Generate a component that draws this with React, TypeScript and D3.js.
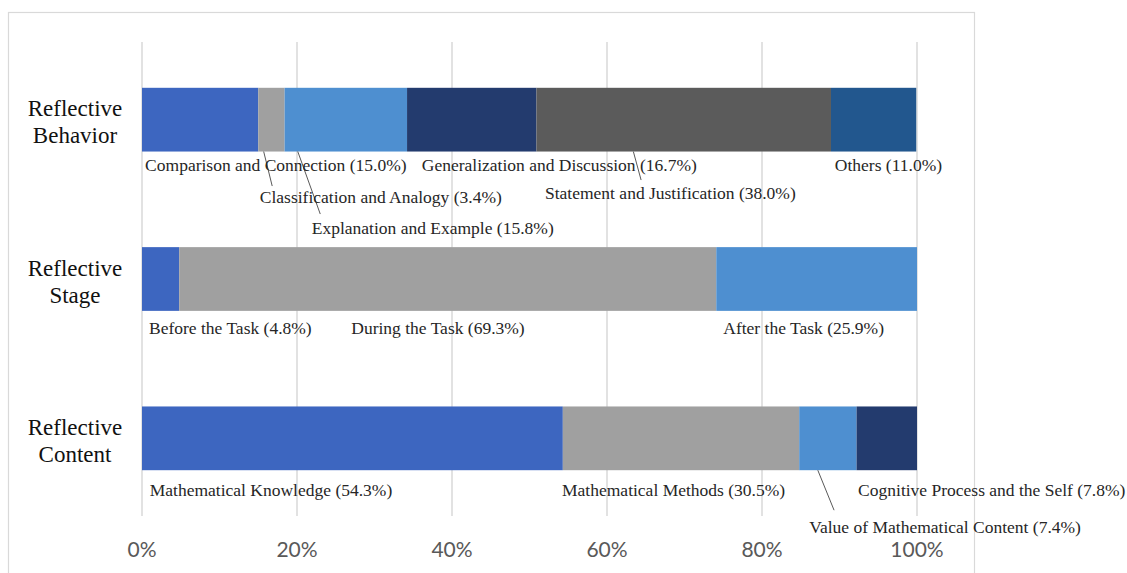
import React from "react";
import * as d3 from "d3";

// Categories (rows of the stacked bar chart)
const categories = ["Reflective Behavior", "Reflective Stage", "Reflective Content"];

// Reflective Behavior components (%)
const behaviorNames = [
  "Comparison and Connection",
  "Classification and Analogy",
  "Explanation and Example",
  "Generalization and Discussion",
  "Statement and Justification",
  "Others",
];
const behaviorValues = [15.0, 3.4, 15.8, 16.7, 38.0, 11.0];

// Reflective Stage components (%)
const stageNames = ["Before the Task", "During the Task", "After the Task"];
const stageValues = [4.8, 69.3, 25.9];

// Reflective Content components (%)
const contentNames = [
  "Mathematical Knowledge",
  "Mathematical Methods",
  "Value of Mathematical Content",
  "Cognitive Process and the Self",
];
const contentValues = [54.3, 30.5, 7.4, 7.8];

// Axis ticks (%)
const tickValues = [0, 20, 40, 60, 80, 100];

// Segment colours, in stacking order
const palette = ["#3d66c0", "#a0a0a0", "#4e8fd0", "#233b6e", "#5b5b5b", "#22578e"];

// Label placement: x in axis units, dy below the bar's bottom edge
const behaviorLabelPos = [
  { x: 0.4, dy: 19.5 },
  { x: 15.2, dy: 51.5 },
  { x: 21.9, dy: 82.5 },
  { x: 36.1, dy: 19.5 },
  { x: 52.0, dy: 47.5 },
  { x: 89.4, dy: 19.5 },
];
const stageLabelPos = [
  { x: 0.9, dy: 23 },
  { x: 27.0, dy: 23 },
  { x: 75.0, dy: 23 },
];
const contentLabelPos = [
  { x: 1.0, dy: 26 },
  { x: 54.2, dy: 26 },
  { x: 86.1, dy: 63 },
  { x: 92.4, dy: 26 },
];

// Leader lines: from (x1, bar bottom) to (x2, bar bottom + dy)
const behaviorLeaders = [
  { x1: 15.7, x2: 16.8, dy: 34.5 },
  { x1: 20.1, x2: 23.0, dy: 62.5 },
  { x1: 63.4, x2: 64.4, dy: 28.5 },
];
const stageLeaders: { x1: number; x2: number; dy: number }[] = [];
const contentLeaders = [{ x1: 87.2, x2: 89.3, dy: 40 }];

const W = 1127;
const H = 573;

const SERIF = "Times New Roman, Liberation Serif, Tinos, DejaVu Serif, serif";

export default function App() {
  const x = d3.scaleLinear().domain([0, 100]).range([142, 917]);
  const y = d3
    .scaleBand<string>()
    .domain(categories)
    .range([40, 518])
    .paddingInner(0.6)
    .paddingOuter(0.3);

  const rows = [
    { names: behaviorNames, values: behaviorValues, pos: behaviorLabelPos, leaders: behaviorLeaders },
    { names: stageNames, values: stageValues, pos: stageLabelPos, leaders: stageLeaders },
    { names: contentNames, values: contentValues, pos: contentLabelPos, leaders: contentLeaders },
  ];

  const gridTop = 42;
  const gridBottom = 516;

  return (
    <svg
      width={W}
      height={H}
      style={{ position: "absolute", left: 0, top: 0, background: "#fff" }}
    >
      <rect x={8.5} y={12.5} width={966} height={600} fill="#fff" stroke="#d9d9d9" strokeWidth={1.2} />

      {/* vertical gridlines */}
      {tickValues.map((t) => (
        <line
          key={"g" + t}
          x1={x(t)}
          x2={x(t)}
          y1={gridTop}
          y2={gridBottom}
          stroke="#d9d9d9"
          strokeWidth={1.5}
        />
      ))}

      {rows.map((row, ri) => {
        const cat = categories[ri];
        const top = y(cat)!;
        const bw = y.bandwidth();
        const bottom = top + bw;
        const mid = top + bw / 2;
        const stack = d3.cumsum(row.values);
        const words = cat.split(" ");
        return (
          <g key={cat}>
            {row.values.map((v, i) => {
              const x0 = x(i === 0 ? 0 : stack[i - 1]);
              const x1 = x(stack[i]);
              return (
                <rect
                  key={i}
                  x={x0}
                  y={top}
                  width={x1 - x0}
                  height={bw}
                  fill={palette[i]}
                />
              );
            })}
            {row.leaders.map((l, i) => (
              <line
                key={"l" + i}
                x1={x(l.x1)}
                y1={bottom}
                x2={x(l.x2)}
                y2={bottom + l.dy}
                stroke="#595959"
                strokeWidth={1}
              />
            ))}
            {row.names.map((n, i) => (
              <text
                key={"t" + i}
                x={x(row.pos[i].x)}
                y={bottom + row.pos[i].dy}
                style={{ fontFamily: SERIF, fontSize: "17.5px" }}
                fill="#262626"
              >
                {`${n} (${row.values[i].toFixed(1)}%)`}
              </text>
            ))}
            <text
              x={75}
              textAnchor="middle"
              style={{ fontFamily: SERIF, fontSize: "23px" }}
              fill="#111"
            >
              <tspan x={75} y={mid - 3.5}>
                {words[0]}
              </tspan>
              <tspan x={75} y={mid + 23.5}>
                {words[1]}
              </tspan>
            </text>
          </g>
        );
      })}

      {/* x-axis tick labels */}
      {tickValues.map((t) => (
        <text
          key={"k" + t}
          x={x(t)}
          y={556.5}
          textAnchor="middle"
          style={{ fontFamily: "Lato, Open Sans, sans-serif", fontSize: "21px" }}
          fill="#595959"
        >
          {`${t}%`}
        </text>
      ))}
    </svg>
  );
}
